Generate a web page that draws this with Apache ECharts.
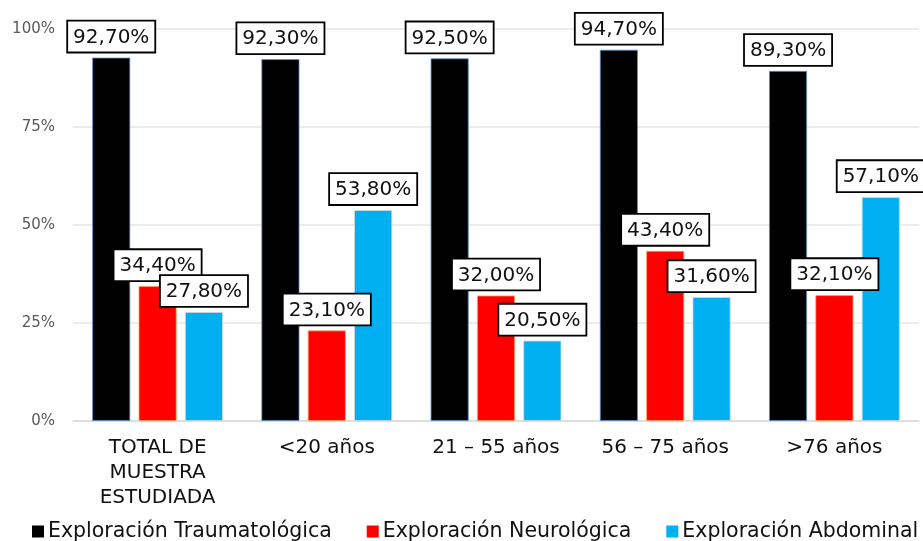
<!DOCTYPE html>
<html><head><meta charset="utf-8">
<script src="https://cdn.jsdelivr.net/npm/echarts@6/dist/echarts.min.js"></script>
<style>html,body{margin:0;padding:0;background:#fff}#c{width:923px;height:541px}</style>
</head><body><div id="c"></div>
<script>
const categories = ['TOTAL DE\nMUESTRA\nESTUDIADA', '<20 años', '21 – 55 años', '56 – 75 años', '>76 años'];
const traumatologica = [92.7, 92.3, 92.5, 94.7, 89.3];
const neurologica = [34.4, 23.1, 32.0, 43.4, 32.1];
const abdominal = [27.8, 53.8, 20.5, 31.6, 57.1];
const yTicks = [0, 25, 50, 75, 100];

const FONT = 'DejaVu Sans, Arial, sans-serif';
const chart = echarts.init(document.getElementById('c'));
const labelCfg = {
  show: true, position: 'top', distance: 6,
  formatter: p => p.value.toFixed(2).replace('.', ',') + '%',
  fontFamily: FONT, fontSize: 20, color: '#111',
  backgroundColor: '#fff', borderColor: '#000', borderWidth: 1.8,
  padding: [6, 5, 4, 5]
};
function mk(name, data, color, border) {
  return { name, type: 'bar', data, barWidth: 38, barGap: '22%',
    itemStyle: { color, borderColor: border, borderWidth: 0.8 },
    label: labelCfg };
}
chart.setOption({
  animation: false,
  grid: { left: 73, right: 4, top: 29, bottom: 120 },
  legend: {
    top: 521, left: 32, width: 891, padding: 0, itemWidth: 12, itemHeight: 12, itemGap: 35,
    icon: 'rect',
    itemStyle: { borderWidth: 0 },
    textStyle: { fontFamily: FONT, fontSize: 20.5, color: '#111', padding: [0, 0, 0, -1] },
    data: ['Exploración Traumatológica', 'Exploración Neurológica', 'Exploración Abdominal']
  },
  xAxis: {
    type: 'category', data: categories,
    axisLine: { lineStyle: { color: '#d9d9d9', width: 1.5 } },
    axisTick: { show: false },
    axisLabel: { fontFamily: FONT, fontSize: 20, color: '#111', lineHeight: 25, margin: 14, interval: 0 }
  },
  yAxis: {
    type: 'value', min: 0, max: 100, interval: 25,
    axisLabel: { formatter: v => yTicks.includes(v) ? v + '%' : '', fontFamily: FONT, fontSize: 15, color: '#595959', margin: 18 },
    splitLine: { lineStyle: { color: '#e6e6e6', width: 1.5 } },
    axisLine: { show: false }, axisTick: { show: false }
  },
  series: [
    mk('Exploración Traumatológica', traumatologica, '#000000', '#5b8fc7'),
    mk('Exploración Neurológica', neurologica, '#ff0000', '#f4a460'),
    mk('Exploración Abdominal', abdominal, '#00b0f0', '#cfd8dc')
  ]
});
</script></body></html>
